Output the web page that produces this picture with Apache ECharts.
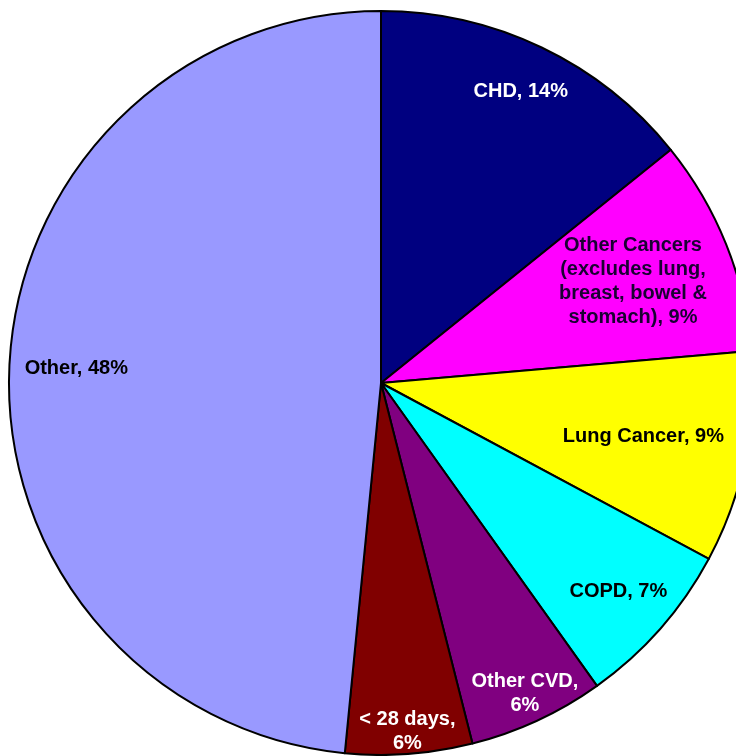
<!DOCTYPE html>
<html>
<head>
<meta charset="utf-8">
<script src="https://cdn.jsdelivr.net/npm/echarts@6/dist/echarts.min.js"></script>
<style>
html,body{margin:0;padding:0;background:#fff;}
#chart{width:736px;height:756px;}
</style>
</head>
<body>
<div id="chart"></div>
<script>
// Data
const categories = ['CHD', 'Other Cancers\n(excludes lung,\nbreast, bowel &\nstomach)', 'Lung Cancer', 'COPD', 'Other CVD', '< 28 days', 'Other'];
const values = [14.2, 9.4, 9.2, 7.3, 5.9, 5.5, 48.4];
const separators = [', ', ', ', ', ', ', ', ',\n', ',\n', ', '];

// Styling
const colors = ['#000080', '#FF00FF', '#FFFF00', '#00FFFF', '#800080', '#800000', '#9999FF'];
const labelColors = ['#ffffff', '#1a0033', '#000000', '#000000', '#ffffff', '#ffffff', '#000000'];
const labelRadiusFrac = [0.87, 0.73, 0.72, 0.85, 0.92, 0.94, 0.82];
const CX = 381, CY = 383, R = 372;

const total = values.reduce((a, b) => a + b, 0);
function midAngle(i) {
  let before = 0;
  for (let k = 0; k < i; k++) before += values[k];
  return (before + values[i] / 2) / total * 2 * Math.PI;
}

const chart = echarts.init(document.getElementById('chart'), null, {renderer: 'canvas'});
chart.setOption({
  backgroundColor: '#ffffff',
  animation: false,
  series: [{
    type: 'pie',
    center: [CX, CY],
    radius: [0, R],
    startAngle: 90,
    clockwise: true,
    avoidLabelOverlap: false,
    itemStyle: { borderColor: '#000000', borderWidth: 2 },
    emphasis: { disabled: true },
    label: {
      show: true,
      position: 'inside',
      fontFamily: 'Liberation Sans, Arial, sans-serif',
      fontSize: 20,
      fontWeight: 'bold',
      lineHeight: 24,
      align: 'center',
      formatter: p => p.name + separators[p.dataIndex] + Math.round(p.percent) + '%'
    },
    labelLine: { show: false },
    labelLayout: function (params) {
      const i = params.dataIndex;
      const a = midAngle(i);
      const r = labelRadiusFrac[i] * R;
      return {
        x: CX + r * Math.sin(a),
        y: CY - r * Math.cos(a),
        align: 'center',
        verticalAlign: 'middle'
      };
    },
    data: categories.map((c, i) => ({
      name: c,
      value: values[i],
      itemStyle: { color: colors[i] },
      label: { color: labelColors[i] }
    }))
  }]
});
</script>
</body>
</html>
